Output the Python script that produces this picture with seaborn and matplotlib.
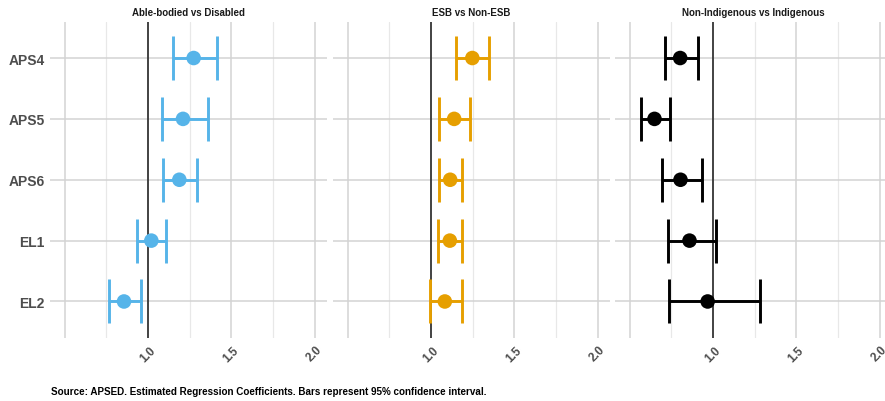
import matplotlib
matplotlib.use("Agg")
import matplotlib.pyplot as plt
import seaborn as sns
import pandas as pd
import numpy as np

# ---- data ----
categories = ["APS4", "APS5", "APS6", "EL1", "EL2"]
panels = ["Able-bodied vs Disabled", "ESB vs Non-ESB", "Non-Indigenous vs Indigenous"]
colors = ["#56B4E9", "#E69F00", "#000000"]

est_disabled = [1.274, 1.210, 1.188, 1.020, 0.856]
lo_disabled = [1.148, 1.082, 1.088, 0.936, 0.768]
hi_disabled = [1.414, 1.358, 1.296, 1.108, 0.956]

est_esb = [1.248, 1.139, 1.115, 1.113, 1.083]
lo_esb = [1.151, 1.048, 1.050, 1.044, 0.992]
hi_esb = [1.346, 1.231, 1.183, 1.183, 1.185]

est_indig = [0.803, 0.649, 0.805, 0.859, 0.968]
lo_indig = [0.709, 0.567, 0.695, 0.729, 0.737]
hi_indig = [0.907, 0.743, 0.936, 1.020, 1.279]

x_major = [0.5, 1.0, 1.5, 2.0]
x_major_labels = ["", "1.0", "1.5", "2.0"]
x_minor = [0.75, 1.25, 1.75]

caption = "Source: APSED. Estimated Regression Coefficients. Bars represent 95% confidence interval."

frames = []
for p, e, l, h in zip(panels,
                      [est_disabled, est_esb, est_indig],
                      [lo_disabled, lo_esb, lo_indig],
                      [hi_disabled, hi_esb, hi_indig]):
    frames.append(pd.DataFrame({"panel": p, "item": categories, "est": e, "lo": l, "hi": h}))
df = pd.concat(frames, ignore_index=True)

sns.set_theme(style="white")
plt.rcParams["font.family"] = ["Liberation Sans", "DejaVu Sans"]

W, H = 885, 402
fig = plt.figure(figsize=(W / 100, H / 100), dpi=100)

lefts = [50, 333, 615]
pw = 277
top_px, bot_px = 22.5, 339
for i, (p, c) in enumerate(zip(panels, colors)):
    ax = fig.add_axes([lefts[i] / W, 1 - bot_px / H, pw / W, (bot_px - top_px) / H])
    sub = df[df["panel"] == p].reset_index(drop=True)
    ypos = np.arange(len(categories))
    ax.set_xlim(0.412, 2.074)
    ax.set_ylim(len(categories) - 0.4, -0.6)
    ax.set_xticks(x_major)
    ax.set_xticks(x_minor, minor=True)
    ax.set_xticklabels(x_major_labels)
    ax.set_yticks(ypos)
    ax.set_yticklabels(categories if i == 0 else [""] * len(categories))
    ax.grid(True, which="major", axis="both", color="#d3d3d3", lw=1.1, zorder=0)
    ax.grid(True, which="minor", axis="x", color="#e8e8e8", lw=0.9, zorder=0)
    ax.set_axisbelow(True)
    for s in ax.spines.values():
        s.set_visible(False)
    ax.tick_params(axis="both", which="both", length=0)
    ax.tick_params(axis="y", pad=4, labelsize=10, labelcolor="#4d4d4d")
    ax.tick_params(axis="x", pad=4, labelsize=8.5, labelcolor="#4d4d4d")
    for t in ax.get_xticklabels():
        t.set_rotation(45)
        t.set_fontweight("bold")
    for t in ax.get_yticklabels():
        t.set_fontweight("bold")
    ax.axvline(1.0, color="#1a1a1a", lw=1.1, zorder=2)
    ax.errorbar(sub["est"], ypos, xerr=[sub["est"] - sub["lo"], sub["hi"] - sub["est"]],
                fmt="none", ecolor=c, elinewidth=2.1, capsize=15.5, capthick=2.1, zorder=3)
    sub = sub.assign(ypos=ypos)
    sns.scatterplot(data=sub, x="est", y="ypos", color=c, s=110, edgecolor="none",
                    ax=ax, zorder=4, legend=False)
    ax.set_xlabel("")
    ax.set_ylabel("")
    ax.set_title(p, fontsize=7, fontweight="bold", color="#1a1a1a", pad=5)

fig.text(51 / W, 1 - 392 / H, caption, fontsize=7.1, fontweight="bold", color="#000000",
         ha="left", va="center")

fig.savefig("out.png", dpi=100)
